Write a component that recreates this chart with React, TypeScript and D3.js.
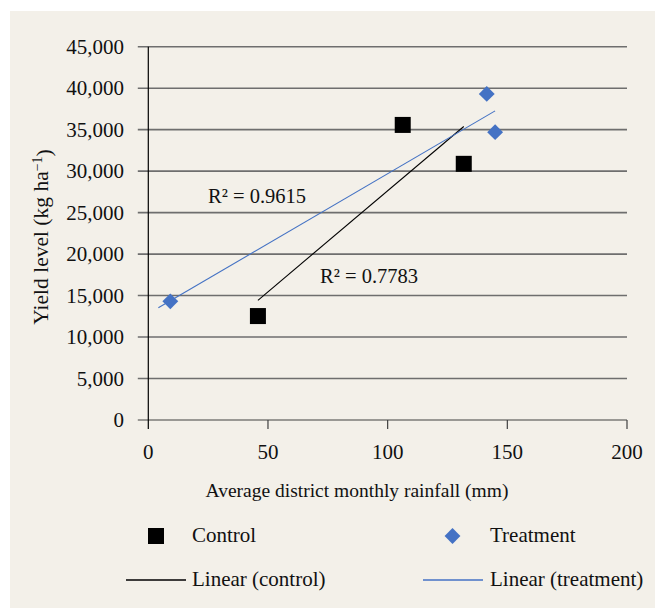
import React, { useEffect, useRef } from "react";
import * as d3 from "d3";

// values
const controlRainfall = [45.8, 106.3, 131.8];
const controlYield = [12530, 35570, 30880];
const treatmentRainfall = [9.2, 141.4, 144.9];
const treatmentYield = [14300, 39310, 34700];

const xTicks = [0, 50, 100, 150, 200];
const yTicks = [0, 5000, 10000, 15000, 20000, 25000, 30000, 35000, 40000, 45000];
const rSquaredLabels = ["R² = 0.7783", "R² = 0.9615"];
const legendLabels = ["Control", "Treatment", "Linear (control)", "Linear (treatment)"];

// the treatment trendline is forecast backward by a few mm (Excel option)
const treatmentBackcast = 5;

const BLUE = "#4472C4";
const FONT = "'Liberation Serif', 'Times New Roman', serif";

// least squares line
function fit(xs: number[], ys: number[]) {
  const mx = d3.mean(xs) as number;
  const my = d3.mean(ys) as number;
  let sxy = 0, sxx = 0;
  xs.forEach((x, i) => {
    sxy += (x - mx) * (ys[i] - my);
    sxx += (x - mx) * (x - mx);
  });
  const slope = sxy / sxx;
  return { slope: slope, intercept: my - slope * mx };
}

export default function App() {
  const ref = useRef<SVGSVGElement>(null);

  useEffect(() => {
    const svg = d3.select(ref.current);
    svg.selectAll("*").remove();

    svg.append("rect")
      .attr("x", 10).attr("y", 11)
      .attr("width", 645).attr("height", 597)
      .attr("fill", "#F3F0E9");

    const x = d3.scaleLinear().domain([0, 200]).range([148.3, 627]);
    const y = d3.scaleLinear().domain([0, 45000]).range([420, 46.7]);

    // horizontal grid lines (extend left as tick marks)
    svg.append("g")
      .selectAll("line")
      .data(yTicks)
      .enter()
      .append("line")
      .attr("x1", x(0) - 10.5)
      .attr("x2", x(200))
      .attr("y1", d => y(d))
      .attr("y2", d => y(d))
      .attr("stroke", d => (d === 0 ? "#404040" : "#6e6e6e"))
      .attr("stroke-width", d => (d === 0 ? 1.2 : 1.6));

    // y axis line
    svg.append("line")
      .attr("x1", x(0)).attr("x2", x(0))
      .attr("y1", y(45000)).attr("y2", y(0) + 9)
      .attr("stroke", "#000").attr("stroke-width", 1.2);

    // x ticks
    svg.append("g")
      .selectAll("line")
      .data(xTicks.slice(1))
      .enter()
      .append("line")
      .attr("x1", d => x(d)).attr("x2", d => x(d))
      .attr("y1", y(0)).attr("y2", y(0) + 9)
      .attr("stroke", "#404040").attr("stroke-width", 1.2);

    svg.append("g")
      .selectAll("text")
      .data(yTicks)
      .enter()
      .append("text")
      .attr("x", 124)
      .attr("y", d => y(d))
      .attr("dy", "0.34em")
      .attr("text-anchor", "end")
      .style("font-family", FONT)
      .style("font-size", "21px")
      .attr("fill", "#111")
      .text(d => d3.format(",")(d));

    svg.append("g")
      .selectAll("text")
      .data(xTicks)
      .enter()
      .append("text")
      .attr("x", d => x(d))
      .attr("y", 459)
      .attr("text-anchor", "middle")
      .style("font-family", FONT)
      .style("font-size", "21px")
      .attr("fill", "#111")
      .text(d => String(d));

    // axis titles
    svg.append("text")
      .attr("x", 357).attr("y", 497)
      .attr("text-anchor", "middle")
      .style("font-family", FONT).style("font-size", "19.5px")
      .attr("fill", "#111")
      .text("Average district monthly rainfall (mm)");

    const yTitle = svg.append("text")
      .attr("transform", "translate(48,237) rotate(-90)")
      .attr("text-anchor", "middle")
      .style("font-family", FONT).style("font-size", "21.5px")
      .attr("fill", "#111");
    yTitle.append("tspan").text("Yield level (kg ha");
    yTitle.append("tspan").attr("dy", "-0.45em").style("font-size", "14px").text("−1");
    yTitle.append("tspan").attr("dy", "0.45em").text(")");

    // trendlines
    const line = d3.line<number[]>().x(d => x(d[0])).y(d => y(d[1]));
    const fc = fit(controlRainfall, controlYield);
    const cx0 = d3.min(controlRainfall) as number;
    const cx1 = d3.max(controlRainfall) as number;
    svg.append("path")
      .attr("d", line([[cx0, fc.intercept + fc.slope * cx0], [cx1, fc.intercept + fc.slope * cx1]]))
      .attr("stroke", "#000").attr("stroke-width", 1.1).attr("fill", "none");

    const ft = fit(treatmentRainfall, treatmentYield);
    const tx0 = (d3.min(treatmentRainfall) as number) - treatmentBackcast;
    const tx1 = d3.max(treatmentRainfall) as number;
    svg.append("path")
      .attr("d", line([[tx0, ft.intercept + ft.slope * tx0], [tx1, ft.intercept + ft.slope * tx1]]))
      .attr("stroke", BLUE).attr("stroke-width", 1.1).attr("fill", "none");

    // markers
    svg.append("g")
      .selectAll("rect")
      .data(controlRainfall)
      .enter()
      .append("rect")
      .attr("x", d => x(d) - 8)
      .attr("y", (d, i) => y(controlYield[i]) - 8)
      .attr("width", 16).attr("height", 16)
      .attr("fill", "#000");

    const diamond = d3.symbol().type(d3.symbolDiamond2).size(160);
    svg.append("g")
      .selectAll("path")
      .data(treatmentRainfall)
      .enter()
      .append("path")
      .attr("d", diamond())
      .attr("transform", (d, i) => "translate(" + x(d) + "," + y(treatmentYield[i]) + ")")
      .attr("fill", BLUE);

    // R² labels
    svg.append("text")
      .attr("x", 320).attr("y", 283)
      .style("font-family", FONT).style("font-size", "20.5px")
      .attr("fill", "#111")
      .text(rSquaredLabels[0]);
    svg.append("text")
      .attr("x", 208).attr("y", 203)
      .style("font-family", FONT).style("font-size", "20.5px")
      .attr("fill", "#111")
      .text(rSquaredLabels[1]);

    // legend
    const legend = svg.append("g")
      .style("font-family", FONT).style("font-size", "21px")
      .attr("fill", "#111");
    legend.append("rect")
      .attr("x", 148).attr("y", 528).attr("width", 16).attr("height", 16)
      .attr("fill", "#000");
    legend.append("text").attr("x", 192).attr("y", 542).text(legendLabels[0]);
    legend.append("path")
      .attr("d", diamond())
      .attr("transform", "translate(452.5,536)")
      .attr("fill", BLUE);
    legend.append("text").attr("x", 490).attr("y", 542).text(legendLabels[1]);
    legend.append("line")
      .attr("x1", 126).attr("x2", 186).attr("y1", 580).attr("y2", 580)
      .attr("stroke", "#000").attr("stroke-width", 1.3);
    legend.append("text").attr("x", 192).attr("y", 586).text(legendLabels[2]);
    legend.append("line")
      .attr("x1", 423).attr("x2", 483).attr("y1", 580).attr("y2", 580)
      .attr("stroke", BLUE).attr("stroke-width", 1.3);
    legend.append("text").attr("x", 490).attr("y", 586).text(legendLabels[3]);
  }, []);

  return (
    <svg
      ref={ref}
      width={655}
      height={608}
      style={{ position: "absolute", left: 0, top: 0, background: "#fff" }}
    />
  );
}
